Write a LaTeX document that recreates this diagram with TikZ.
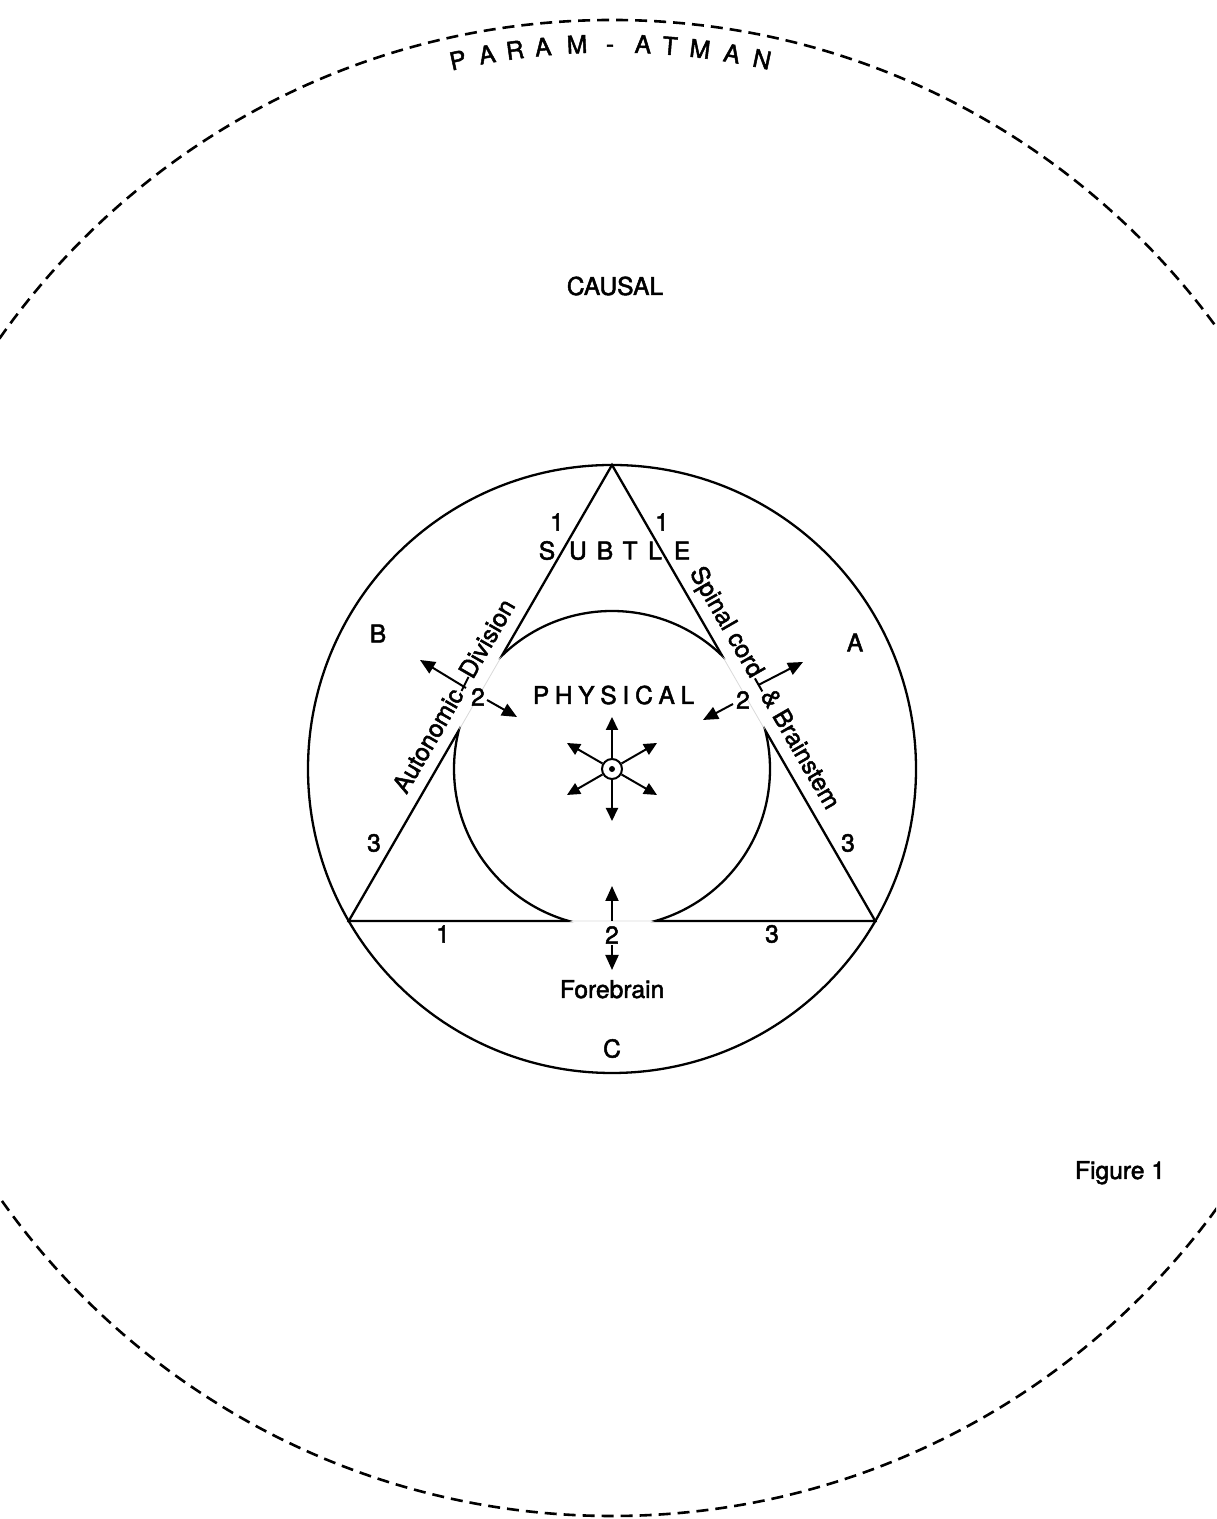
\documentclass[tikz,border=0pt]{standalone}
\usepackage{fontspec}
\setmainfont{TeX Gyre Heros}[FakeBold=2]
\usetikzlibrary{arrows.meta,calc}
\begin{document}
\begin{tikzpicture}[x=0.5pt,y=0.5pt,
  lbl/.style={inner sep=0pt, font=\fontsize{12.3}{14}\selectfont},
  num/.style={inner sep=0pt, font=\fontsize{12.3}{14}\selectfont},
  stroke/.style={line width=1.15pt},
  arr/.style={line width=1pt, -{Triangle[length=7.5pt,width=6.5pt]}},
  sarr/.style={line width=1pt, -{Triangle[length=6.5pt,width=6pt]}},
  faint/.style={black!15, line width=0.4pt},
  outer/.style={line width=1.3pt, dash pattern=on 6pt off 3.5pt}
]
\useasboundingbox (0,0) rectangle (1216,1519);
\coordinate (C) at (612,750);

% outer dashed circle
\begin{scope}
\clip (0,0) rectangle (1216,1519);
\draw[outer] (612,751) circle (748);
\end{scope}

% PARAM - ATMAN along the arc
\foreach \ch/\d [count=\i] in {P/-154, A/-125, R/-97, A/-69, M/-35, -/-2, A/31, T/58, M/88, A/120, N/150}{
  \pgfmathsetmacro\ang{asin(\d/725)}
  \pgfmathsetmacro\pa{90-\ang}
  \node[lbl, anchor=base, rotate=-\ang] (pa\i) at ($(C)+(\pa:716.5)$) {\ch};
}

\node[lbl, anchor=base] (causal) at (615,1224) {CAUSAL};
\node[lbl, anchor=base] (fig) at (1120,340) {Figure 1};

% inner circle and triangle
\draw[stroke] (C) circle (304);
\coordinate (T) at ($(C)+(90:304)$);
\coordinate (BL) at ($(C)+(210:304)$);
\coordinate (BR) at ($(C)+(330:304)$);
\draw[faint] (T) -- (BL) -- (BR) -- cycle;
\begin{scope}[even odd rule]
  \clip (0,0) rectangle (1216,1519) (C) circle (158);
  \draw[stroke] (T) -- (BL) -- (BR) -- cycle;
\end{scope}
\begin{scope}
  \clip (T) -- (BL) -- (BR) -- cycle;
  \draw[stroke] (C) circle (158);
\end{scope}

% region letters
\node[lbl, anchor=base] (B) at (378,876.5) {B};
\node[lbl, anchor=base] (A) at (855,867.5) {A};
\node[lbl, anchor=base] (Cl) at (612,461.5) {C};

% SUBTLE
\foreach \ch/\x [count=\i] in {S/547, U/578, B/605, T/630, L/655, E/682}{
  \node[lbl, anchor=base] (sub\i) at (\x,959.5) {\ch};
}
% PHYSICAL
\foreach \ch/\x [count=\i] in {P/541, H/563.7, Y/586.4, S/608.5, I/625.9, C/644, A/666.7, L/687.4}{
  \node[lbl, anchor=base] (phy\i) at (\x,815) {\ch};
}

% numbers
\node[num] (n1a) at (557,997) {1};
\node[num] (n1b) at (662,997) {1};
\node[num] (n3a) at (374,676) {3};
\node[num] (n3b) at (848,676) {3};
\node[num] (n1c) at (443,585) {1};
\node[num] (n3c) at (772,585) {3};
\node[num] (n2b) at (612,584) {2};
\node[num] (n2l) at (478,822) {2};
\node[num] (n2r) at (743,819) {2};

\node[lbl, anchor=base] (fore) at (612,521) {Forebrain};

% side texts
\node[lbl, anchor=base east, rotate=60] (auto) at (464.6,824.7) {Autonomic};
\node[lbl, anchor=base west, rotate=60] (divi) at (472.6,838.6) {Division};
\node[lbl, anchor=base east, rotate=-60] (spin) at (750.9,839.4) {Spinal cord};
\node[lbl, anchor=base west, rotate=-60] (brain) at (759.9,823.8) {\& Brainstem};

% side arrows
\coordinate (lo1) at (466,831); \coordinate (lo2) at (420,859);
\coordinate (li1) at (487,819); \coordinate (li2) at (517,802);
\coordinate (ro1) at (758.6,834.1); \coordinate (ro2) at (803,857);
\coordinate (ri1) at (733,815); \coordinate (ri2) at (703,799);
\coordinate (bu1) at (612,598); \coordinate (bu2) at (612,633);
\coordinate (bd1) at (612,574); \coordinate (bd2) at (612,549);
\coordinate (lb1) at (461.5,828); \coordinate (lb2) at (468.5,842);
\coordinate (rb1) at (754.9,840.6); \coordinate (rb2) at (762.3,827.6);
\draw[line width=1pt] (lb1) -- (lb2);
\draw[line width=1pt] (rb1) -- (rb2);
\draw[arr] (lo1) -- (lo2);
\draw[arr] (li1) -- (li2);
\draw[arr] (ro1) -- (ro2);
\draw[arr] (ri1) -- (ri2);
\draw[arr] (bu1) -- (bu2);
\draw[arr] (bd1) -- (bd2);

% centre symbol
\node[circle, draw, line width=1pt, minimum size=10pt, inner sep=0pt] (ctr) at (C) {};
\fill (C) circle (3);
\foreach \a in {90,30,150,210,270,330}{
  \coordinate (tip\a) at ($(C)+(\a:52)$);
  \draw[sarr] (ctr.\a) -- (tip\a);
}
\end{tikzpicture}
\end{document}
